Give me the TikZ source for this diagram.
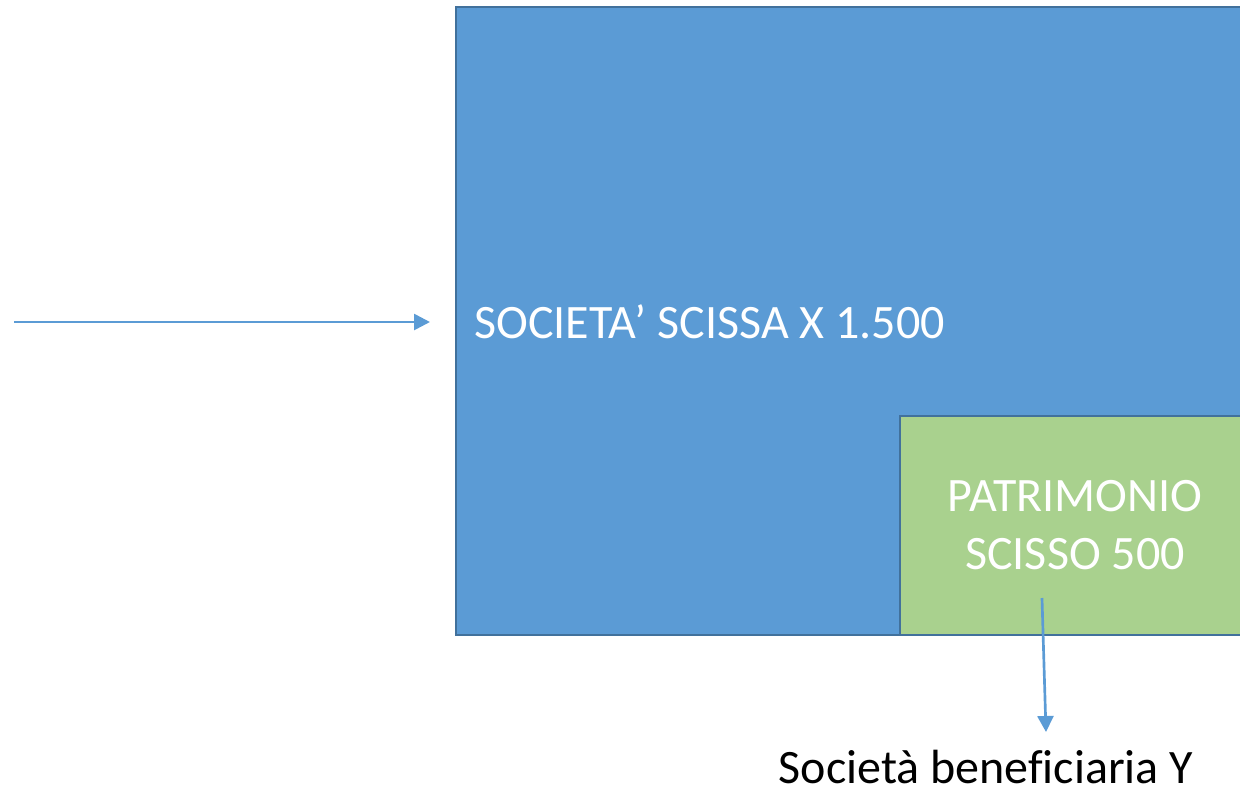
\documentclass[tikz,border=0pt]{standalone}
\usepackage{fontspec}
\setmainfont[Ligatures=NoCommon]{Carlito}
\usetikzlibrary{arrows.meta}
\definecolor{boxblue}{HTML}{5B9BD5}
\definecolor{boxedge}{HTML}{41719C}
\definecolor{boxgreen}{HTML}{A9D18E}
\tikzset{
  flow/.style={draw=boxblue, line width=2pt, -{Triangle[length=12pt, width=12pt]}},
  block/.style={rectangle, draw=boxedge, line width=1.5pt, inner sep=0pt, anchor=north west}
}

\begin{document}
\begin{tikzpicture}[x=0.75pt, y=-0.75pt]
\useasboundingbox (0,0) rectangle (1240,790);
\node[block, fill=boxblue, minimum width=630pt, minimum height=471pt] (scissa) at (455,6) {};
\node[block, fill=boxgreen, minimum width=270pt, minimum height=164.25pt] (patr) at (899,415) {};
\node[anchor=west, inner sep=0pt, text=white, font=\fontsize{36}{43}\selectfont] (lscissa) at (474,322) {SOCIETA’ SCISSA X 1.500};
\node[align=center, text=white, font=\fontsize{36}{43.5}\selectfont] (lpatr) at (1075,525) {PATRIMONIO\\SCISSO 500};
\node[anchor=base, inner sep=0pt, font=\fontsize{36}{43}\selectfont] (ben) at (986,783) {Società beneficiaria Y};
\coordinate (in) at (14,322);
\coordinate (inend) at (430,322);
\coordinate (down) at (1042,598);
\coordinate (downend) at (1046,732);
\draw[flow] (in) -- (inend);
\draw[flow] (down) -- (downend);
\end{tikzpicture}
\end{document}
